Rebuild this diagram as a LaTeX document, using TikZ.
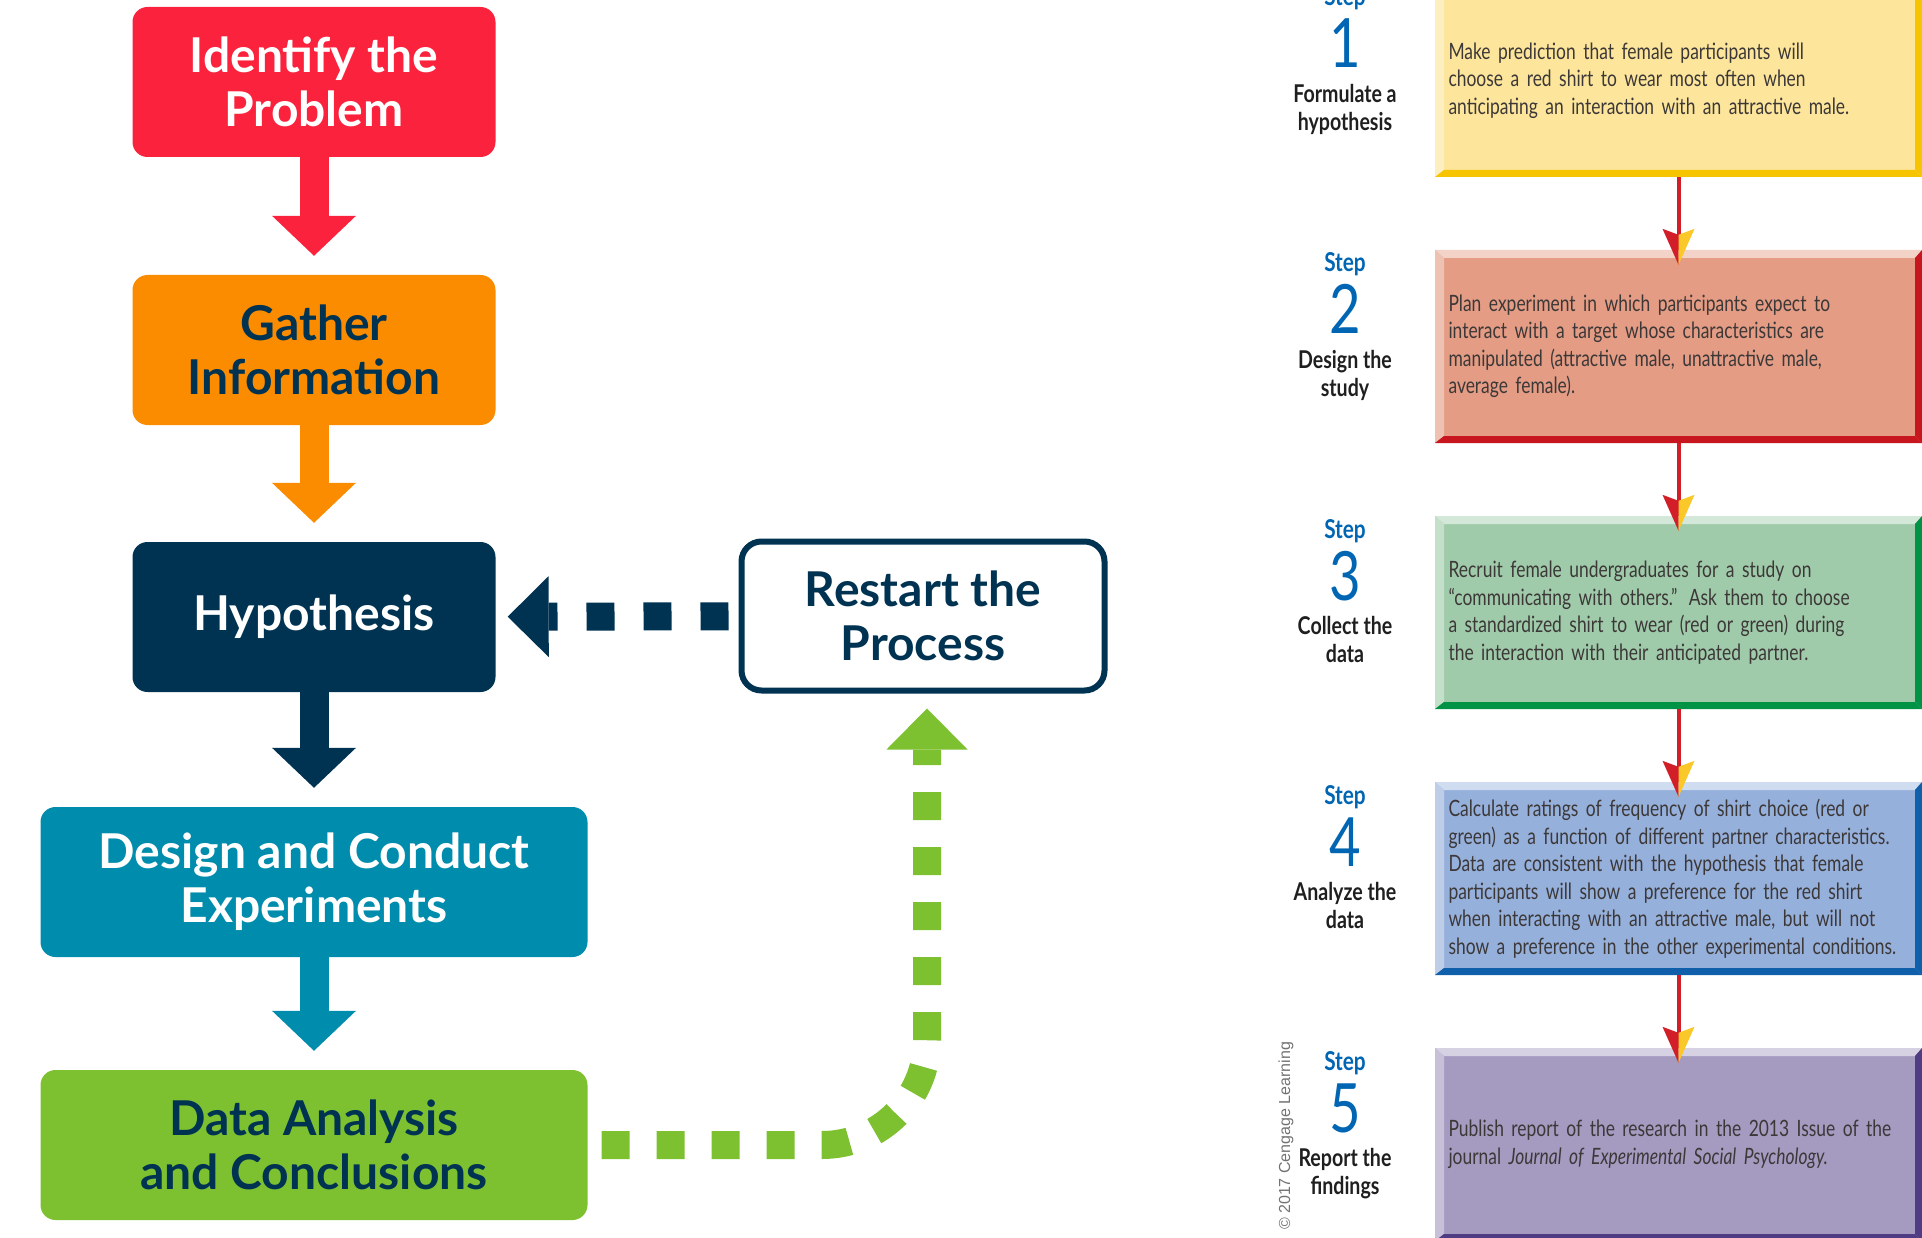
\documentclass[tikz,border=0pt]{standalone}
\usepackage{fontspec}
\usetikzlibrary{arrows.meta}
\setmainfont{Lato}
\newfontfamily\condfont{Lato}[FakeStretch=0.8]
\newfontfamily\bodyfont{Lato}[FakeStretch=0.775,WordSpace=0.75]
\newfontfamily\copyfont{Liberation Sans}
\definecolor{cRed}{RGB}{250,34,60}
\definecolor{cOrange}{RGB}{251,140,0}
\definecolor{cNavy}{RGB}{0,51,82}
\definecolor{cTeal}{RGB}{0,140,173}
\definecolor{cGreen}{RGB}{125,192,48}
\definecolor{fYellow}{RGB}{253,230,155}
\definecolor{dYellow}{RGB}{247,196,0}
\definecolor{fSalmon}{RGB}{228,156,132}
\definecolor{dSalmon}{RGB}{200,22,30}
\definecolor{fMint}{RGB}{160,203,170}
\definecolor{dMint}{RGB}{0,146,69}
\definecolor{fBlue}{RGB}{150,176,220}
\definecolor{dBlue}{RGB}{16,95,170}
\definecolor{fPurple}{RGB}{165,154,192}
\definecolor{dPurple}{RGB}{80,60,130}
\definecolor{stepBlue}{RGB}{0,102,179}
\definecolor{txtGray}{RGB}{60,56,56}
\definecolor{tipRed}{RGB}{210,30,40}
\definecolor{tipYellow}{RGB}{250,200,40}
\newcommand\splithead[1]{%
  \fill[tipRed] ([yshift=-15pt]#1) -- ([xshift=-16pt,yshift=21pt]#1) -- ([yshift=15pt]#1) -- cycle;
  \fill[tipYellow] ([yshift=-15pt]#1) -- ([xshift=16pt,yshift=21pt]#1) -- ([yshift=15pt]#1) -- cycle;}
\begin{document}
\begin{tikzpicture}
	[x=1pt,y=-1pt,
	lbox/.style={rounded corners=15pt,minimum height=150pt,align=center,inner sep=0pt,font=\fontsize{48}{54}\selectfont\bfseries},
	fat/.style={line width=29pt,-{Triangle[width=84pt,length=40pt,line width=0pt]},shorten >=19pt},
	dotline/.style={line width=28pt,-{Triangle[width=81pt,length=41pt,line width=0pt]}},
	stepbox/.style 2 args={fill=#1,minimum width=487pt,minimum height=193pt,text width=460pt,inner xsep=13.5pt,inner ysep=0pt,
		align=left,text=txtGray,font=\bodyfont\fontsize{22.5}{27.5}\selectfont,
		path picture={
			\fill[#1!45!white] (path picture bounding box.north west) -- (path picture bounding box.north east)
				-- ([xshift=-7pt,yshift=-8pt]path picture bounding box.north east) -- ([xshift=9pt,yshift=-8pt]path picture bounding box.north west) -- cycle;
			\fill[#1!62!white] (path picture bounding box.north west) -- ([xshift=9pt,yshift=-8pt]path picture bounding box.north west)
				-- ([xshift=9pt,yshift=7pt]path picture bounding box.south west) -- (path picture bounding box.south west) -- cycle;
			\fill[#2] (path picture bounding box.south west) -- (path picture bounding box.south east)
				-- ([xshift=-7pt,yshift=7pt]path picture bounding box.south east) -- ([xshift=9pt,yshift=7pt]path picture bounding box.south west) -- cycle;
			\fill[#2] (path picture bounding box.north east) -- (path picture bounding box.south east)
				-- ([xshift=-7pt,yshift=7pt]path picture bounding box.south east) -- ([xshift=-7pt,yshift=-8pt]path picture bounding box.north east) -- cycle;
		}},
	steptag/.style={anchor=base,inner sep=0pt,text=stepBlue,font=\condfont\bfseries\fontsize{26}{28}\selectfont},
	stepno/.style={anchor=base,inner sep=0pt,text=stepBlue,font=\condfont\fontsize{68}{68}\selectfont},
	stepdesc/.style={anchor=north,inner sep=0pt,align=center,text=black!88,font=\condfont\bfseries\fontsize{24.5}{28.5}\selectfont},
	thinred/.style={tipRed,line width=4pt}]
	\useasboundingbox (0,0) rectangle (1922,1238);
	\node[lbox,fill=cRed,text=white,minimum width=363pt,name=identify]at(314,82){Identify the\\Problem};
	\node[lbox,fill=cOrange,text=cNavy,minimum width=363pt,name=gather]at(314,350){Gather\\Information};
	\node[lbox,fill=cNavy,text=white,minimum width=363pt,name=hypothesis]at(314,617){Hypothesis};
	\node[lbox,fill=cTeal,text=white,minimum width=547pt,name=design]at(314,882){Design and Conduct\\Experiments};
	\node[lbox,fill=cGreen,text=cNavy,minimum width=547pt,name=analysis]at(314,1145){Data Analysis\\and Conclusions};
	\node[lbox,draw=cNavy,line width=6pt,fill=white,text=cNavy,minimum width=363pt,minimum height=149pt,rounded corners=20pt,name=restart]at(923,616){Restart the\\Process};
	\draw[fat,cRed] (identify) -- (gather);
	\draw[fat,cOrange] (gather) -- (hypothesis);
	\draw[fat,cNavy] (hypothesis) -- (design);
	\draw[fat,cTeal] (design) -- (analysis);
	\draw[dotline,cNavy,dash pattern=on 28pt off 29pt,shorten <=10pt,shorten >=12pt] (restart) -- (hypothesis);
	\draw[dotline,cGreen,dash pattern=on 28pt off 27pt,rounded corners=105pt,shorten <=14pt,shorten >=15pt] (analysis.east) -| ([xshift=4pt]restart.south);
	\node[stepbox={fYellow}{dYellow},name=s1]at(1678.5,80.5){Make prediction that female participants will\\choose a red shirt to wear most often when\\anticipating an interaction with an attractive male.};
	\node[stepbox={fSalmon}{dSalmon},name=s2]at(1678.5,346.5){Plan experiment in which participants expect to\\interact with a target whose characteristics are\\manipulated (attractive male, unattractive male,\\average female).};
	\node[stepbox={fMint}{dMint},name=s3]at(1678.5,612.5){Recruit female undergraduates for a study on\\“communicating with others.” Ask them to choose\\a standardized shirt to wear (red or green) during\\the interaction with their anticipated partner.};
	\node[stepbox={fBlue}{dBlue},name=s4]at(1678.5,878.5){Calculate ratings of frequency of shirt choice (red or\\green) as a function of different partner characteristics.\\Data are consistent with the hypothesis that female\\participants will show a preference for the red shirt\\when interacting with an attractive male, but will not\\show a preference in the other experimental conditions.};
	\node[stepbox={fPurple}{dPurple},name=s5]at(1678.5,1144.5){Publish report of the research in the 2013 Issue of the\\journal \textit{Journal of Experimental Social Psychology.}};
	\draw[thinred] (s1) -- (s2); \splithead{s2.north}
	\draw[thinred] (s2) -- (s3); \splithead{s3.north}
	\draw[thinred] (s3) -- (s4); \splithead{s4.north}
	\draw[thinred] (s4) -- (s5); \splithead{s5.north}
	\node[steptag,name=t1]at(1345,6){Step};
	\node[stepno,name=n1]at(1345,68){1};
	\node[stepdesc,name=d1]at(1345,84){Formulate a\\hypothesis};
	\node[steptag,name=t2]at(1345,272){Step};
	\node[stepno,name=n2]at(1345,334){2};
	\node[stepdesc,name=d2]at(1345,350){Design the\\study};
	\node[steptag,name=t3]at(1345,538){Step};
	\node[stepno,name=n3]at(1345,600){3};
	\node[stepdesc,name=d3]at(1345,616){Collect the\\data};
	\node[steptag,name=t4]at(1345,804){Step};
	\node[stepno,name=n4]at(1345,866){4};
	\node[stepdesc,name=d4]at(1345,882){Analyze the\\data};
	\node[steptag,name=t5]at(1345,1070){Step};
	\node[stepno,name=n5]at(1345,1132){5};
	\node[stepdesc,name=d5]at(1345,1148){Report the\\findings};
	\node[rotate=90,text=black!55,font=\copyfont\fontsize{16}{16}\selectfont,name=copy]at(1286,1136){© 2017 Cengage Learning};
\end{tikzpicture}
\end{document}
